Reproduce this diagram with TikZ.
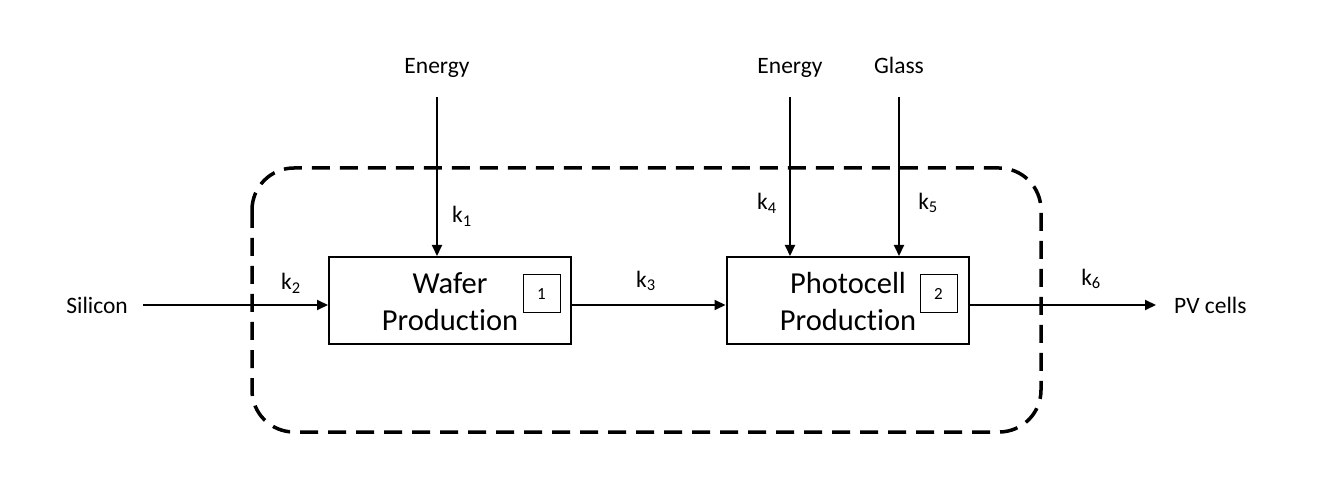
\documentclass[tikz,border=0pt]{standalone}
\usepackage{fontspec}
\setmainfont{Carlito}[Ligatures=NoCommon]
\usetikzlibrary{arrows.meta}
\tikzset{
  procbox/.style={draw, line width=2pt, minimum width=242pt, minimum height=87pt, inner sep=0pt},
  numbox/.style={draw, line width=1pt, minimum width=37pt, minimum height=38pt, inner sep=0pt, font=\fontsize{17}{17}\selectfont},
  boxtext/.style={align=center, font=\fontsize{30.5}{37}\selectfont, inner sep=0pt},
  lbl/.style={font=\fontsize{23.5}{28}\selectfont, inner sep=0pt},
  flow/.style={line width=2pt, -{Triangle[length=11pt,width=10pt]}},
  boundary/.style={line width=3.5pt, dash pattern=on 18pt off 10pt, rounded corners=42pt}
}
\begin{document}
\begin{tikzpicture}[x=1pt,y=-1pt]
\useasboundingbox (0,0) rectangle (1328,478);
% boundary
\draw[boundary] (252,168) rectangle (1041,432);
% process boxes
\node[procbox] (b1) at (450,300.5) {};
\node[procbox] (b2) at (847.5,300.5) {};
\node[boxtext] (t1) at (450,302) {Wafer\\Production};
\node[boxtext] (t2) at (848,302) {Photocell\\Production};
\node[numbox] (n1) at (541.5,294) {1};
\node[numbox] (n2) at (938.5,294) {2};
% inputs/outputs
\node[lbl, anchor=east] (si) at (128,305) {Silicon};
\coordinate (siS) at (143,305);
\node[lbl, anchor=base] (e1) at (437,74) {Energy};
\coordinate (e1S) at (437,97);
\node[lbl, anchor=base] (e2) at (790,74) {Energy};
\coordinate (e2S) at (790,97);
\node[lbl, anchor=base] (gl) at (899,74) {Glass};
\coordinate (glS) at (899,97);
\coordinate (pvE) at (1156,305);
\node[lbl, anchor=west] (pv) at (1174,305) {PV cells};
% flows
\draw[flow] (siS) -- (siS -| b1.west);
\draw[flow] (e1S) -- (e1S |- b1.north);
\draw[flow] (b1.east |- siS) -- (b2.west |- siS);
\draw[flow] (e2S) -- (e2S |- b2.north);
\draw[flow] (glS) -- (glS |- b2.north);
\draw[flow] (b2.east |- siS) -- (pvE);
% k labels
\node[lbl] (k1) at (462,216) {k\textsubscript{1}};
\node[lbl] (k2) at (291,283) {k\textsubscript{2}};
\node[lbl] (k3) at (646,281) {k\textsubscript{3}};
\node[lbl] (k4) at (767,203) {k\textsubscript{4}};
\node[lbl] (k5) at (928,203) {k\textsubscript{5}};
\node[lbl] (k6) at (1091,279) {k\textsubscript{6}};
\end{tikzpicture}
\end{document}
